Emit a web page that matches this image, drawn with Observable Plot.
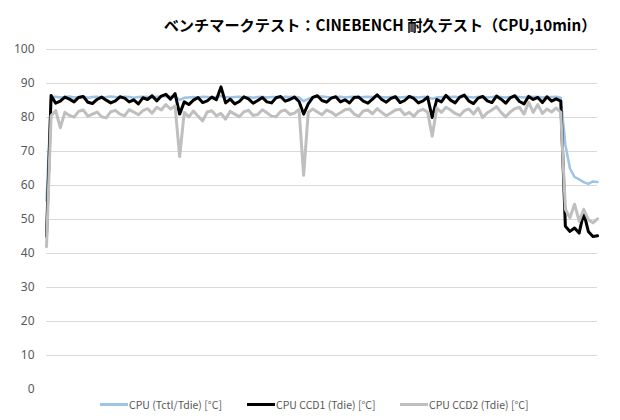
<!DOCTYPE html>
<html>
<head>
<meta charset="utf-8">
<script src="https://cdn.jsdelivr.net/npm/d3@7"></script>
<script src="https://cdn.jsdelivr.net/npm/@observablehq/plot@0.6"></script>
<style>
  html, body { margin: 0; padding: 0; background: #fff; overflow: hidden; }
  #wrap { position: relative; width: 620px; height: 420px; font-family: "Noto Sans CJK JP", "Noto Sans", sans-serif; }
  #title { position: absolute; left: 380px; top: 13px; transform: translateX(-50%); white-space: nowrap;
           font-size: 15.2px; font-weight: bold; color: #000; }
  #chart { position: absolute; left: 0; top: 38px; }
  #legend { position: absolute; top: 395px; left: 0; width: 620px; height: 18px; font-size: 10.5px; color: #595959; }
  .item { position: absolute; top: 0; display: flex; align-items: center; height: 18px; white-space: nowrap; }
  .sw { display: inline-block; width: 28px; height: 3px; margin-right: 1px; }
</style>
</head>
<body>
<div id="wrap">
  <div id="title">ベンチマークテスト：CINEBENCH 耐久テスト（CPU,10min）</div>
  <div id="chart"></div>
  <div id="legend"></div>
</div>
<script>
// sample times in seconds (5 s interval, 10 minutes)
const seconds = d3.range(0, 601, 5);

const seriesNames = ["CPU (Tctl/Tdie) [°C]", "CPU CCD1 (Tdie) [°C]", "CPU CCD2 (Tdie) [°C]"];
const seriesColors = ["#9DC3E6", "#000000", "#BFBFBF"];
const yTicks = [0, 10, 20, 30, 40, 50, 60, 70, 80, 90, 100];

const tctl = [
  55.5, 86.0, 86.1, 85.9, 86.0, 86.2, 85.9, 86.0, 86.1, 85.8,
  86.0, 86.1, 85.9, 86.0, 86.2, 86.0, 85.9, 86.1, 86.0, 85.8,
  86.0, 86.1, 86.0, 85.9, 86.1, 86.2, 86.3, 86.1, 86.2, 85.2,
  85.8, 85.9, 86.0, 85.8, 86.1, 86.0, 85.9, 86.0, 86.3, 86.0,
  85.9, 86.0, 86.1, 85.9, 86.0, 85.8, 86.0, 86.1, 85.9, 86.0,
  86.0, 85.9, 86.1, 86.0, 86.1, 85.9, 84.8, 85.5, 86.0, 86.1,
  86.2, 86.0, 85.9, 86.0, 86.1, 85.9, 86.0, 86.1, 85.9, 86.0,
  86.1, 86.0, 86.2, 86.0, 85.9, 86.0, 86.1, 85.9, 86.0, 86.1,
  86.0, 85.9, 86.0, 86.1, 85.5, 85.9, 86.0, 86.2, 86.0, 86.1,
  85.9, 86.2, 86.0, 85.9, 86.1, 86.0, 85.9, 86.0, 86.2, 86.0,
  85.9, 86.0, 86.1, 86.0, 85.9, 86.2, 86.0, 86.1, 85.9, 86.0,
  86.0, 86.1, 85.8, 72.0, 65.0, 62.5, 61.8, 61.0, 60.5, 61.2,
  61.0
];

const ccd1 = [
  45.0, 86.5, 84.2, 84.8, 86.0, 85.4, 84.6, 85.9, 86.2, 84.5,
  84.1, 85.3, 86.0, 85.1, 84.3, 84.9, 86.1, 85.7, 84.6, 85.2,
  84.0, 85.8, 85.3, 86.4, 84.9, 86.3, 86.8, 85.4, 87.0, 81.0,
  84.6, 83.8, 85.1, 85.9, 84.4, 84.9, 86.0, 85.2, 89.0, 84.3,
  85.4, 84.0, 84.7, 86.1, 85.5, 84.2, 85.0, 85.9, 84.6, 84.3,
  85.8, 86.2, 84.8, 85.3, 86.0, 84.7, 81.0, 84.0, 85.9, 86.4,
  85.0, 84.5, 85.7, 86.1, 84.6, 85.2, 84.3, 85.9, 86.0, 84.8,
  84.2, 85.4, 86.7, 85.3, 84.5, 85.6, 86.1, 84.4, 85.0, 86.2,
  85.6, 84.3, 84.9, 86.0, 80.0, 85.3, 84.6, 86.5, 85.1, 84.3,
  86.0, 86.6, 84.8, 84.1, 85.7, 86.2, 84.9, 84.4, 86.3, 85.4,
  84.2, 85.8, 86.4, 84.7, 84.0, 86.2, 85.3, 85.9, 84.4, 86.1,
  84.8, 85.5, 84.8, 48.0, 46.5, 47.5, 46.0, 52.0, 46.5, 45.0,
  45.2
];

const ccd2 = [
  42.0, 80.5, 82.0, 77.0, 81.5, 80.6, 80.1, 81.8, 82.2, 80.4,
  81.0, 81.6, 80.2, 79.9, 81.7, 82.1, 81.0, 80.5, 82.3, 81.6,
  80.8, 82.0, 82.6, 81.3, 83.0, 82.2, 83.8, 82.5, 83.4, 68.5,
  81.5, 80.2, 81.9, 80.4, 79.0, 81.6, 82.0, 80.5, 81.2, 79.5,
  81.8, 81.0, 80.2, 81.7, 82.1, 80.6, 80.9, 82.3, 81.4, 80.4,
  80.2, 81.8, 82.2, 80.9, 81.3, 82.4, 63.0, 81.5, 82.5, 81.6,
  80.8, 82.2, 81.6, 80.6, 81.4, 82.3, 82.5, 81.0, 80.4, 81.9,
  82.2, 81.1, 82.6, 81.5, 80.5, 81.3, 82.2, 82.4, 80.8, 81.5,
  80.3, 81.9, 82.4, 81.6, 74.5, 82.8, 81.5, 83.0, 82.2, 81.2,
  80.6, 82.0, 82.5, 81.0, 82.8, 80.0, 81.4, 82.2, 83.2, 81.5,
  80.2, 81.6, 82.6, 83.0, 81.0, 84.5, 81.5, 83.8, 81.2, 82.5,
  81.6, 82.8, 81.5, 53.0, 50.5, 54.5, 49.5, 53.0, 50.0, 49.0,
  50.2
];

const rows = seconds.map((t, i) => ({t, a: tctl[i], b: ccd1[i], c: ccd2[i]}));

const plot = Plot.plot({
  width: 620,
  height: 364,
  marginLeft: 46,
  marginRight: 23,
  marginTop: 11,
  marginBottom: 13,
  style: {fontFamily: "'Noto Sans', 'Noto Sans CJK JP', sans-serif", fontSize: "12px", color: "#595959", background: "#fff"},
  x: {domain: [0, 600], axis: null},
  y: {domain: [0, 100], axis: null},
  marks: [
    Plot.gridY(yTicks.filter(d => d > 0), {stroke: "#D9D9D9", strokeOpacity: 1, strokeWidth: 1}),
    Plot.axisY(yTicks, {tickSize: 0, tickPadding: 12, label: null, fill: "#595959", fontSize: 12}),
    Plot.line(rows, {x: "t", y: "a", stroke: seriesColors[0], strokeWidth: 2.5, strokeLinejoin: "round", strokeLinecap: "round"}),
    Plot.line(rows, {x: "t", y: "b", stroke: seriesColors[1], strokeWidth: 3, strokeLinejoin: "round", strokeLinecap: "round"}),
    Plot.line(rows, {x: "t", y: "c", stroke: seriesColors[2], strokeWidth: 3, strokeLinejoin: "round", strokeLinecap: "round"})
  ]
});
document.getElementById("chart").appendChild(plot);

const legendX = [100, 247, 400];
const legend = document.getElementById("legend");
seriesNames.forEach((name, i) => {
  const item = document.createElement("div");
  item.className = "item";
  item.style.left = legendX[i] + "px";
  const sw = document.createElement("span");
  sw.className = "sw";
  sw.style.background = seriesColors[i];
  item.appendChild(sw);
  item.appendChild(document.createTextNode(name));
  legend.appendChild(item);
});
</script>
</body>
</html>
